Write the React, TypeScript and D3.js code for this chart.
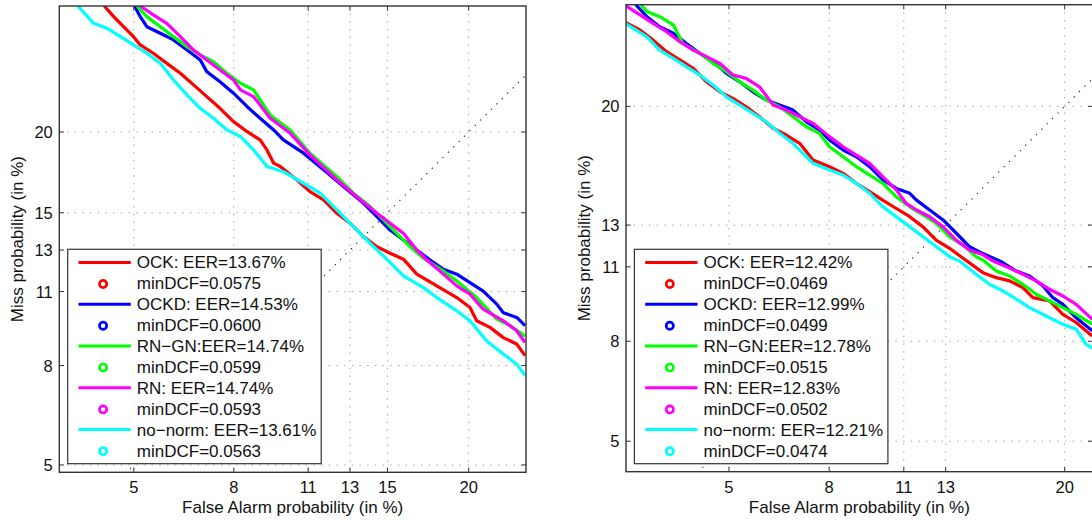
import React from 'react';
import * as d3 from 'd3';

// ---------------- data (values in %) ----------------
const seriesColors = ['#ff0000', '#0000ff', '#00ff00', '#ff00ff', '#00ffff'];

const leftEerLabels = ['OCK: EER=13.67%', 'OCKD: EER=14.53%', 'RN\u2212GN:EER=14.74%', 'RN: EER=14.74%', 'no\u2212norm: EER=13.61%'];
const leftDcfLabels = ['minDCF=0.0575', 'minDCF=0.0600', 'minDCF=0.0599', 'minDCF=0.0593', 'minDCF=0.0563'];
const rightEerLabels = ['OCK: EER=12.42%', 'OCKD: EER=12.99%', 'RN\u2212GN:EER=12.78%', 'RN: EER=12.83%', 'no\u2212norm: EER=12.21%'];
const rightDcfLabels = ['minDCF=0.0469', 'minDCF=0.0499', 'minDCF=0.0515', 'minDCF=0.0502', 'minDCF=0.0474'];

const leftTicks = [5, 8, 11, 13, 15, 20];
const rightTicks = [5, 8, 11, 13, 20];

// left panel
const leftOckFA = [4.31, 4.52, 4.75, 4.99, 5.16, 5.5, 5.87, 6.26, 6.66, 7.08, 7.52, 7.99, 8.49, 8.98, 9.25, 9.52, 9.79, 10.5, 11.08, 11.71, 12.35, 13.0, 13.70, 14.42, 15.15, 15.91, 16.70, 17.93, 19.21, 20.09, 20.54, 21.46, 22.41, 23.38, 24.0];
const leftOckMiss = [29.54, 28.66, 27.84, 27.04, 26.38, 25.73, 24.95, 24.20, 23.33, 22.47, 21.64, 20.71, 20.02, 19.47, 18.81, 17.96, 17.75, 16.92, 16.22, 15.73, 14.97, 14.42, 13.70, 13.17, 12.84, 12.54, 11.81, 11.26, 10.73, 10.29, 9.73, 9.46, 9.05, 8.80, 8.36];

const leftOckdFA = [5.02, 5.16, 5.33, 5.69, 6.06, 6.46, 6.87, 7.08, 7.52, 7.99, 8.49, 8.98, 9.52, 9.92, 10.79, 11.71, 12.67, 13.70, 14.42, 15.15, 15.91, 16.70, 17.51, 18.35, 19.21, 20.09, 20.99, 21.94, 22.41, 23.38, 24.0];
const leftOckdMiss = [29.54, 28.66, 27.84, 27.31, 26.78, 25.98, 25.21, 24.32, 23.57, 22.72, 21.75, 20.94, 20.14, 19.47, 18.60, 17.54, 16.52, 15.54, 14.78, 14.05, 13.52, 13.0, 12.5, 12.04, 11.81, 11.41, 11.02, 10.44, 10.07, 9.87, 9.53];

const leftRnGnFA = [5.08, 5.33, 5.69, 6.06, 6.46, 6.87, 7.30, 7.76, 8.24, 8.73, 9.38, 10.21, 11.08, 12.35, 13.18, 14.05, 14.78, 15.53, 16.30, 17.10, 18.35, 19.21, 20.54, 21.94, 22.89, 24.0];
const leftRnGnMiss = [29.54, 28.66, 27.84, 27.04, 26.25, 25.60, 25.08, 24.20, 23.45, 22.96, 21.17, 20.14, 18.60, 17.12, 16.13, 15.35, 14.60, 13.87, 13.17, 12.59, 11.96, 11.49, 10.73, 9.80, 9.53, 9.11];

const leftRnFA = [5.16, 5.5, 5.87, 6.26, 6.66, 7.08, 7.52, 7.99, 8.24, 8.73, 9.38, 10.21, 11.08, 12.35, 13.35, 14.42, 15.15, 15.91, 16.70, 17.31, 18.35, 19.21, 20.09, 20.99, 22.41, 23.38, 24.0];
const leftRnMiss = [29.54, 28.80, 28.11, 27.04, 25.98, 25.21, 24.45, 23.70, 22.96, 22.47, 20.94, 19.91, 18.49, 16.92, 15.92, 14.97, 14.42, 13.87, 13.0, 12.5, 11.81, 11.26, 10.88, 10.22, 9.73, 9.32, 8.86];

const leftNoNormFA = [3.76, 4.08, 4.37, 4.68, 4.99, 5.33, 5.69, 6.06, 6.46, 6.87, 7.30, 7.76, 8.24, 8.73, 9.25, 9.92, 10.79, 11.55, 12.35, 13.18, 14.05, 14.96, 15.91, 17.10, 17.93, 19.21, 20.09, 21.23, 22.41, 23.38, 24.0];
const leftNoNormMiss = [29.54, 28.11, 27.71, 27.04, 26.38, 25.73, 24.95, 23.70, 22.59, 21.64, 20.94, 20.14, 19.69, 18.81, 17.75, 17.43, 16.72, 16.13, 15.16, 14.23, 13.35, 12.54, 11.73, 11.18, 10.73, 10.15, 9.73, 8.92, 8.42, 8.05, 7.65];

// right panel
const rightOckFA = [2.93, 3.16, 3.39, 3.64, 3.90, 4.18, 4.47, 4.78, 5.10, 5.44, 5.80, 6.19, 6.58, 7.0, 7.44, 8.01, 8.51, 9.01, 9.54, 10.09, 10.67, 11.27, 11.89, 12.54, 13.20, 13.90, 14.98, 15.74, 16.52, 17.32, 17.94, 19.0, 19.88, 20.78, 21.9];
const rightOckMiss = [26.08, 25.51, 24.74, 23.87, 23.26, 22.65, 21.69, 20.99, 20.54, 19.97, 19.31, 18.56, 18.13, 17.61, 16.60, 16.20, 15.81, 15.24, 14.77, 14.30, 13.86, 13.43, 12.91, 12.24, 11.86, 11.39, 10.74, 10.52, 10.38, 10.09, 9.67, 9.54, 9.0, 8.69, 8.19];

const rightOckdFA = [3.09, 3.28, 3.51, 3.77, 4.03, 4.32, 4.62, 4.94, 5.27, 5.62, 5.99, 6.38, 6.79, 7.22, 7.66, 8.01, 8.51, 9.01, 9.54, 10.09, 10.67, 11.27, 11.58, 12.21, 12.87, 13.55, 14.25, 14.98, 15.97, 16.92, 17.73, 18.58, 19.22, 19.88, 20.78, 21.9];
const rightOckdMiss = [27.50, 26.55, 25.77, 25.26, 24.50, 23.75, 23.13, 22.29, 21.69, 20.99, 20.43, 20.09, 19.75, 18.98, 18.45, 17.82, 17.20, 16.79, 16.20, 15.43, 14.95, 14.68, 14.31, 13.78, 13.26, 12.59, 11.93, 11.61, 11.26, 10.81, 10.59, 10.16, 9.67, 9.40, 8.87, 8.38];

const rightRnGnFA = [3.18, 3.28, 3.51, 3.77, 3.96, 4.32, 4.62, 4.94, 5.27, 5.62, 5.99, 6.38, 6.79, 7.22, 7.66, 8.01, 8.51, 9.01, 9.54, 10.09, 10.67, 11.27, 11.89, 12.54, 13.20, 13.90, 14.61, 14.98, 15.74, 16.52, 17.32, 18.15, 19.0, 19.88, 20.78, 21.9];
const rightRnGnMiss = [27.49, 26.95, 26.55, 25.90, 24.50, 23.75, 23.01, 22.41, 21.69, 21.11, 20.43, 19.97, 19.31, 18.66, 18.24, 17.40, 16.79, 16.20, 15.71, 15.24, 14.48, 13.95, 13.52, 13.08, 12.41, 12.01, 11.46, 11.31, 10.81, 10.59, 10.23, 9.81, 9.54, 9.27, 9.0, 8.63];

const rightRnFA = [2.93, 3.16, 3.39, 3.64, 3.90, 4.18, 4.47, 4.78, 5.10, 5.44, 5.80, 6.19, 6.58, 7.0, 7.44, 8.01, 8.51, 9.01, 9.54, 10.09, 10.67, 11.11, 11.58, 12.21, 12.87, 13.55, 14.25, 14.98, 15.55, 16.52, 17.32, 18.15, 19.0, 19.88, 20.78, 21.9];
const rightRnMiss = [27.40, 26.69, 26.03, 25.38, 24.62, 23.99, 23.50, 23.01, 22.17, 21.93, 21.34, 20.09, 19.75, 19.31, 18.88, 18.03, 17.40, 16.89, 16.40, 15.61, 14.86, 14.13, 13.78, 13.43, 12.91, 12.24, 11.78, 11.55, 11.26, 10.95, 10.67, 10.38, 10.02, 9.74, 9.40, 8.81];

const rightNoNormFA = [2.93, 3.05, 3.28, 3.51, 3.77, 4.03, 4.32, 4.62, 4.94, 5.27, 5.62, 5.99, 6.38, 6.79, 7.22, 7.44, 8.01, 8.51, 9.01, 9.54, 10.09, 10.67, 11.27, 11.89, 12.54, 13.20, 13.72, 14.61, 15.35, 16.13, 16.92, 17.73, 19.0, 19.88, 20.78, 21.46, 21.9];
const rightNoNormMiss = [25.98, 25.64, 24.99, 23.99, 23.38, 22.77, 22.17, 21.46, 20.65, 20.09, 19.54, 18.98, 18.24, 17.61, 16.79, 16.40, 16.0, 15.71, 15.24, 14.68, 13.95, 13.42, 12.91, 12.42, 11.93, 11.46, 11.26, 10.67, 10.23, 9.95, 9.61, 9.27, 8.87, 8.62, 8.44, 7.89, 7.76];

// axis limits (%)
const leftXLim = [3.41, 24.07];
const leftYLim = [4.82, 29.54];
const rightXLim = [2.93, 21.93];
const rightYLim = [4.29, 27.5];

// ---------------- helpers ----------------
function probit(p: number): number {
  const a = [-3.969683028665376e1, 2.209460984245205e2, -2.759285104469687e2, 1.38357751867269e2, -3.066479806614716e1, 2.506628277459239];
  const b = [-5.447609879822406e1, 1.615858368580409e2, -1.556989798598866e2, 6.680131188771972e1, -1.328068155288572e1];
  const c = [-7.784894002430293e-3, -3.223964580411365e-1, -2.400758277161838, -2.549732539343734, 4.374664141464968, 2.938163982698783];
  const d = [7.784695709041462e-3, 3.224671290700398e-1, 2.445134137142996, 3.754408661907416];
  const plow = 0.02425;
  if (p < plow) {
    const q = Math.sqrt(-2 * Math.log(p));
    return (((((c[0] * q + c[1]) * q + c[2]) * q + c[3]) * q + c[4]) * q + c[5]) / ((((d[0] * q + d[1]) * q + d[2]) * q + d[3]) * q + 1);
  }
  if (p <= 1 - plow) {
    const q = p - 0.5;
    const r = q * q;
    return ((((((a[0] * r + a[1]) * r + a[2]) * r + a[3]) * r + a[4]) * r + a[5]) * q) / (((((b[0] * r + b[1]) * r + b[2]) * r + b[3]) * r + b[4]) * r + 1);
  }
  const q = Math.sqrt(-2 * Math.log(1 - p));
  return -(((((c[0] * q + c[1]) * q + c[2]) * q + c[3]) * q + c[4]) * q + c[5]) / ((((d[0] * q + d[1]) * q + d[2]) * q + d[3]) * q + 1);
}

const FONT = '"Liberation Sans", Arial, Helvetica, sans-serif';

type PanelCfg = {
  id: string;
  x0: number; x1: number; y0: number; y1: number;
  xLim: number[]; yLim: number[];
  ticks: number[];
  series: { fa: number[]; miss: number[] }[];
  eer: string[]; dcf: string[];
};

function Panel({ cfg }: { cfg: PanelCfg }) {
  const { id, x0, x1, y0, y1, xLim, yLim, ticks, series, eer, dcf } = cfg;
  const xLin = d3.scaleLinear().domain([probit(xLim[0] / 100), probit(xLim[1] / 100)]).range([x0, x1]);
  const yLin = d3.scaleLinear().domain([probit(yLim[0] / 100), probit(yLim[1] / 100)]).range([y1, y0]);
  const xs = (v: number) => xLin(probit(v / 100));
  const ys = (v: number) => yLin(probit(v / 100));
  const line = d3.line<[number, number]>().x((d) => xs(d[0])).y((d) => ys(d[1]));
  const axisCol = '#333';
  const tickLen = 4.7;
  const lgX = x0 + 8.4, lgY = 249.3, lgW = 253.5, lgH = 214.4;
  const rowBase = (i: number) => 268.4 + 20.9 * i;
  const midX = (x0 + x1) / 2;
  const midY = (y0 + y1) / 2;

  return (
    <g>
      <defs>
        <clipPath id={id}>
          <rect x={x0} y={y0} width={x1 - x0} height={y1 - y0} />
        </clipPath>
      </defs>
      <rect x={x0} y={y0} width={x1 - x0} height={y1 - y0} fill="#fff" />
      {/* grid */}
      <g stroke="#8a8a8a" strokeWidth={0.9} strokeDasharray="1.2 6.5">
        {ticks.map((t) => (
          <line key={'gx' + t} x1={xs(t)} x2={xs(t)} y1={y0} y2={y1} />
        ))}
        {ticks.map((t) => (
          <line key={'gy' + t} x1={x0} x2={x1} y1={ys(t)} y2={ys(t)} />
        ))}
      </g>
      {/* diagonal and curves */}
      <g clipPath={`url(#${id})`}>
        <line x1={xs(1)} y1={ys(1)} x2={xs(45)} y2={ys(45)} stroke="#222" strokeWidth={1.1} strokeDasharray="1.3 6.3" />
        {series.map((s, i) => (
          <path
            key={i}
            d={line(s.fa.map((f, k) => [f, s.miss[k]] as [number, number])) || ''}
            fill="none"
            stroke={seriesColors[i]}
            strokeWidth={3.2}
            strokeLinejoin="round"
          />
        ))}
      </g>
      {/* axes box */}
      <rect x={x0} y={y0} width={x1 - x0} height={y1 - y0} fill="none" stroke={axisCol} strokeWidth={1.4} />
      {/* ticks */}
      <g stroke={axisCol} strokeWidth={1}>
        {ticks.map((t) => (
          <g key={'t' + t}>
            <line x1={xs(t)} x2={xs(t)} y1={y1} y2={y1 - tickLen} />
            <line x1={xs(t)} x2={xs(t)} y1={y0} y2={y0 + tickLen} />
            <line x1={x0} x2={x0 + tickLen} y1={ys(t)} y2={ys(t)} />
            <line x1={x1} x2={x1 - tickLen} y1={ys(t)} y2={ys(t)} />
          </g>
        ))}
      </g>
      {/* tick labels */}
      <g fontFamily={FONT} fontSize={16.5} fill="#111">
        {ticks.map((t) => (
          <text key={'lx' + t} x={xs(t)} y={y1 + 21} textAnchor="middle">{t}</text>
        ))}
        {ticks.map((t) => (
          <text key={'ly' + t} x={x0 - 6.5} y={ys(t) + 6} textAnchor="end">{t}</text>
        ))}
      </g>
      {/* axis labels */}
      <text x={midX} y={513} textAnchor="middle" fontFamily={FONT} fontSize={17} fill="#111">
        False Alarm probability (in %)
      </text>
      <text
        transform={`translate(${x0 - 36.3},${midY}) rotate(-90)`}
        textAnchor="middle"
        fontFamily={FONT}
        fontSize={17}
        fill="#111"
      >
        Miss probability (in %)
      </text>
      {/* legend */}
      <rect x={lgX} y={lgY} width={lgW} height={lgH} fill="#fff" stroke="#333" strokeWidth={1.2} />
      {series.map((s, i) => {
        const bl = rowBase(2 * i);
        const bl2 = rowBase(2 * i + 1);
        return (
          <g key={'lg' + i}>
            <line x1={x0 + 19.2} x2={x0 + 71.5} y1={bl - 6} y2={bl - 6} stroke={seriesColors[i]} strokeWidth={3} />
            <text x={x0 + 77.5} y={bl} fontFamily={FONT} fontSize={17} fill="#111">{eer[i]}</text>
            <circle cx={x0 + 43.8} cy={bl2 - 5.3} r={3.6} fill="none" stroke={seriesColors[i]} strokeWidth={2.7} />
            <text x={x0 + 77.5} y={bl2} fontFamily={FONT} fontSize={17} fill="#111">{dcf[i]}</text>
          </g>
        );
      })}
    </g>
  );
}

export default function App() {
  const left: PanelCfg = {
    id: 'clipL',
    x0: 59.3, x1: 526, y0: 6, y1: 472.3,
    xLim: leftXLim, yLim: leftYLim,
    ticks: leftTicks,
    series: [
      { fa: leftOckFA, miss: leftOckMiss },
      { fa: leftOckdFA, miss: leftOckdMiss },
      { fa: leftRnGnFA, miss: leftRnGnMiss },
      { fa: leftRnFA, miss: leftRnMiss },
      { fa: leftNoNormFA, miss: leftNoNormMiss },
    ],
    eer: leftEerLabels, dcf: leftDcfLabels,
  };
  const right: PanelCfg = {
    id: 'clipR',
    x0: 626, x1: 1092.7, y0: 4.7, y1: 471.7,
    xLim: rightXLim, yLim: rightYLim,
    ticks: rightTicks,
    series: [
      { fa: rightOckFA, miss: rightOckMiss },
      { fa: rightOckdFA, miss: rightOckdMiss },
      { fa: rightRnGnFA, miss: rightRnGnMiss },
      { fa: rightRnFA, miss: rightRnMiss },
      { fa: rightNoNormFA, miss: rightNoNormMiss },
    ],
    eer: rightEerLabels, dcf: rightDcfLabels,
  };
  return (
    <svg
      width={1092}
      height={522}
      viewBox="0 0 1092 522"
      style={{ position: 'absolute', left: 0, top: 0, background: '#fff' }}
    >
      <rect x={0} y={0} width={1092} height={522} fill="#fff" />
      <Panel cfg={left} />
      <Panel cfg={right} />
    </svg>
  );
}
